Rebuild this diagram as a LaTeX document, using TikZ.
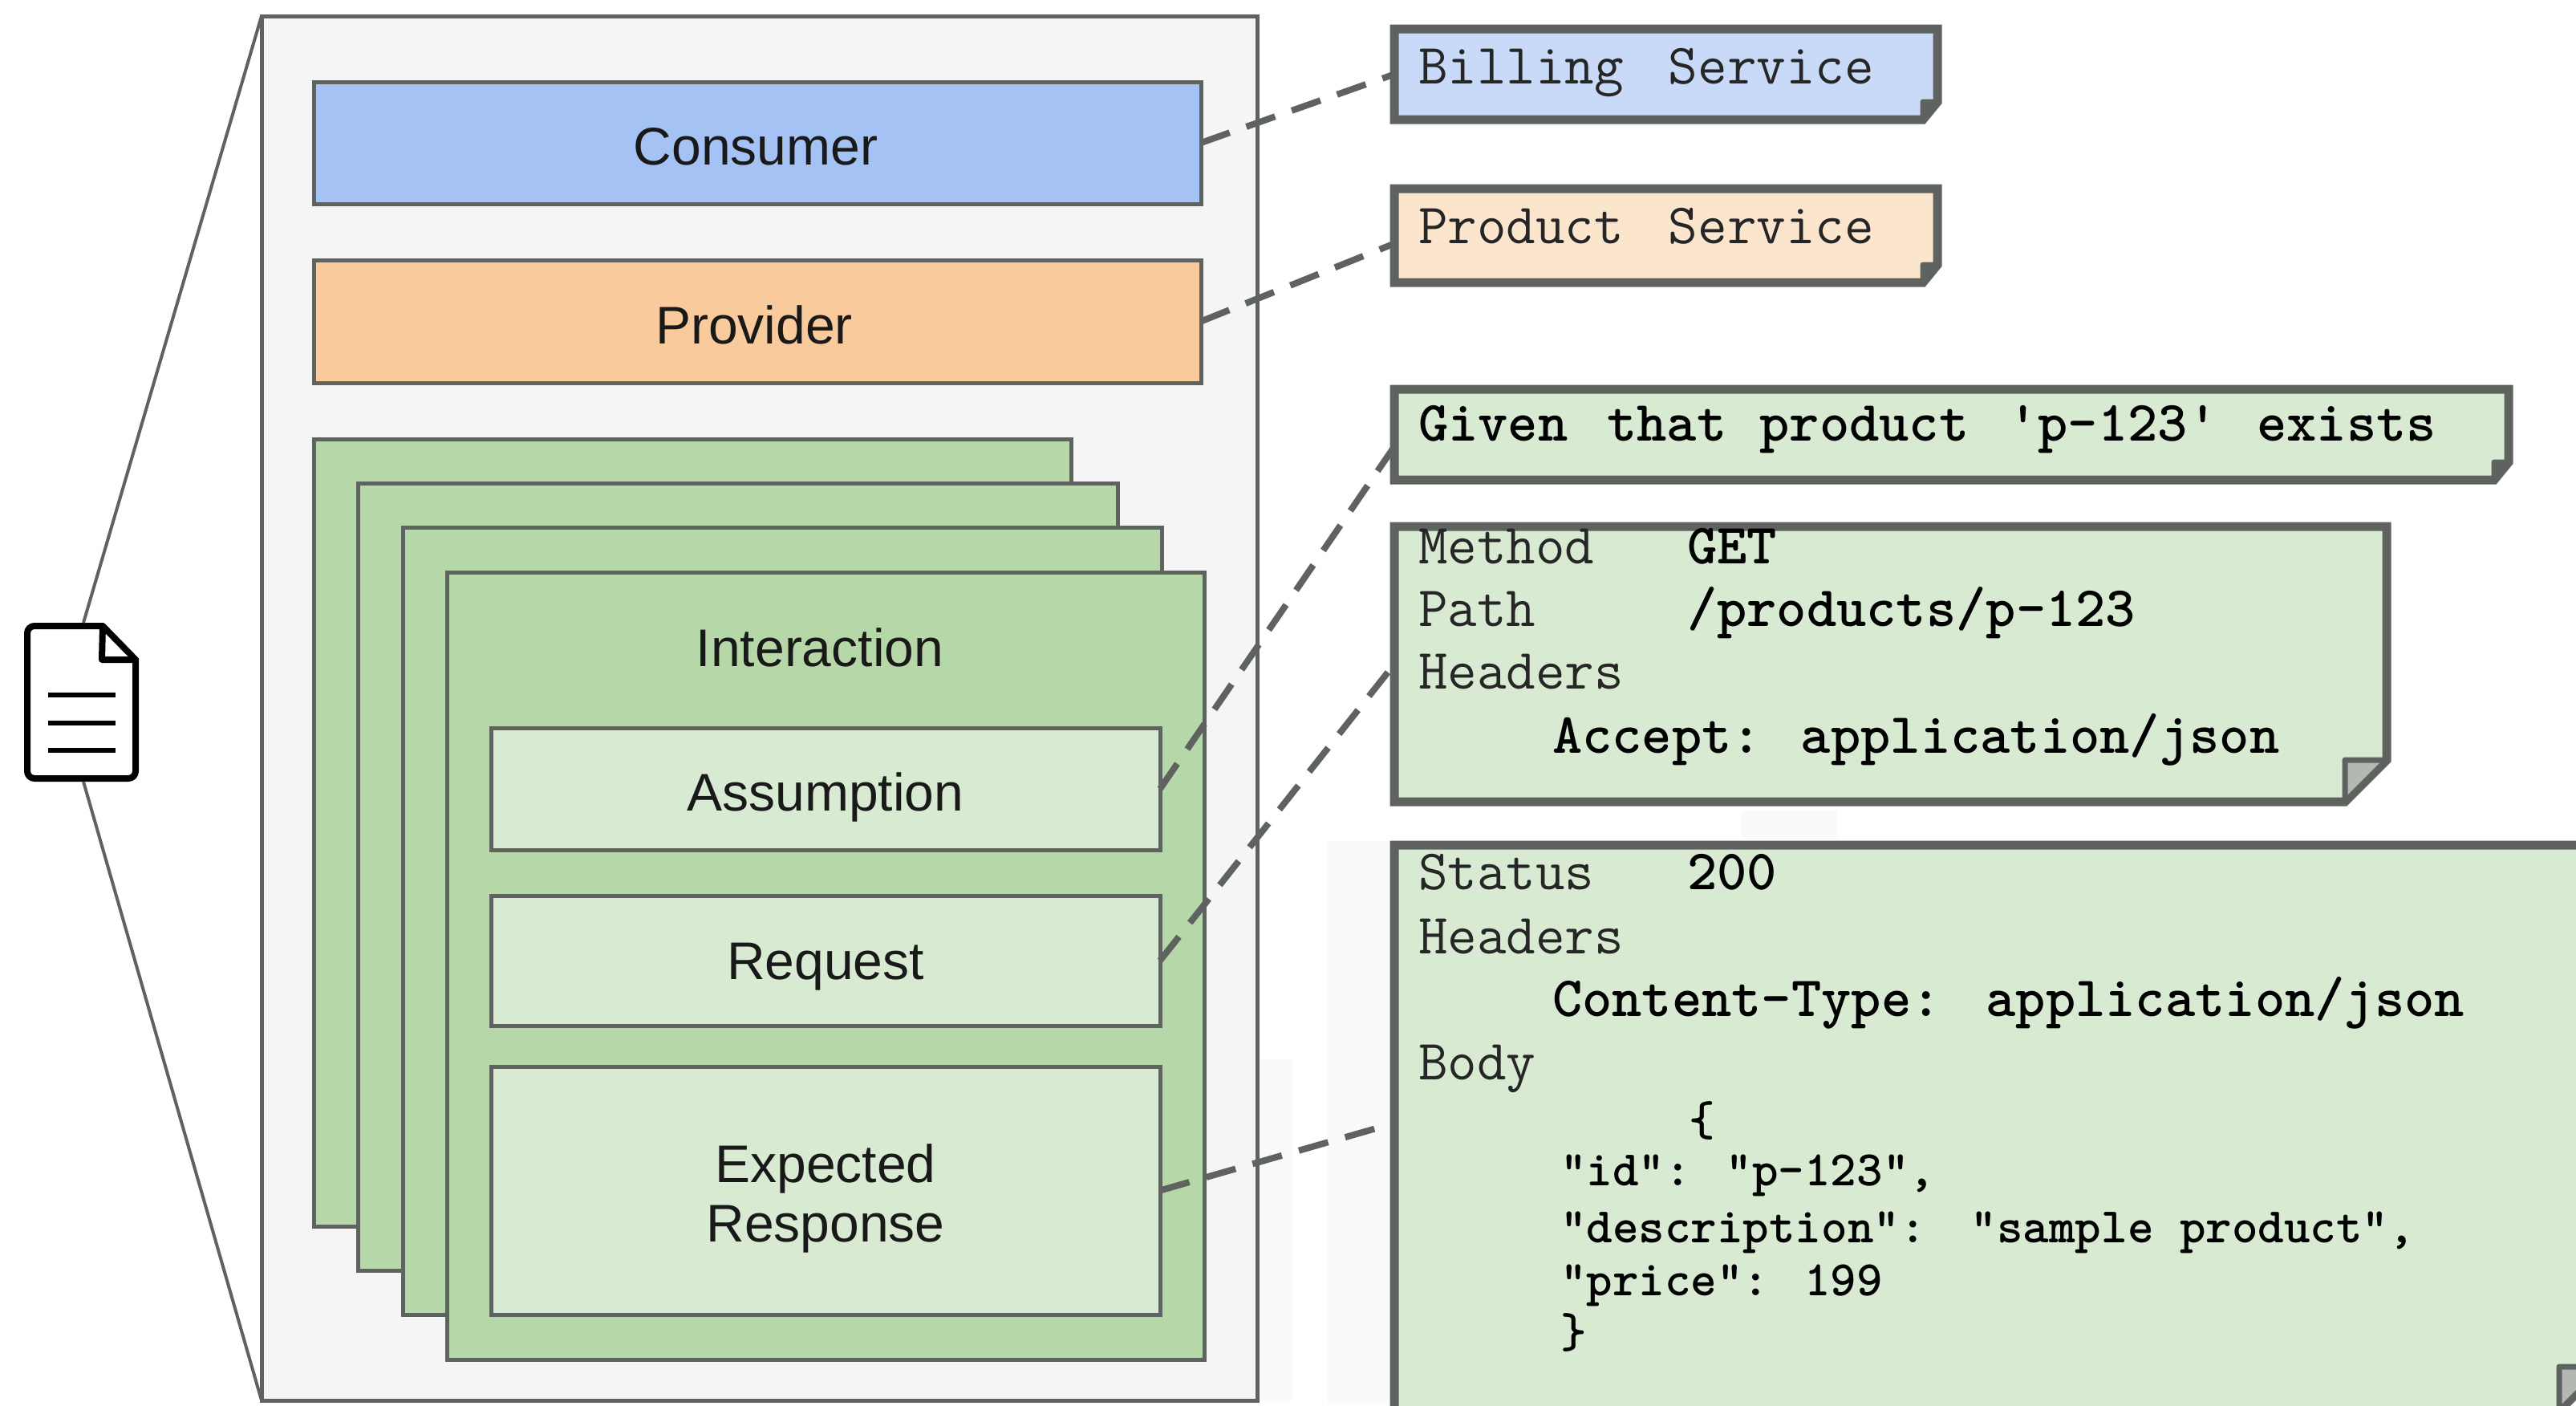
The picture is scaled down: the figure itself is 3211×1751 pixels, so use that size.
\documentclass[tikz,border=0pt]{standalone}
\usepackage{fontspec}
\setmainfont{Liberation Sans}
\usetikzlibrary{calc}
\definecolor{edgegray}{HTML}{5F6360}
\definecolor{framefill}{HTML}{F5F5F5}
\definecolor{consblue}{HTML}{A4C2F4}
\definecolor{provorange}{HTML}{F9CB9C}
\definecolor{stackgreen}{HTML}{B6D7A8}
\definecolor{palegreen}{HTML}{D9EAD3}
\definecolor{paleblue}{HTML}{C9DAF8}
\definecolor{paleorange}{HTML}{FCE5CD}
\definecolor{foldgray}{HTML}{B4B8B2}
\definecolor{ghost}{HTML}{FAFAFB}
\newcommand{\boxat}[7]{%
  \pgfmathsetmacro{\bw}{#5-#3}\pgfmathsetmacro{\bh}{#6-#4}%
  \pgfmathsetmacro{\bx}{(#3+#5)/2}\pgfmathsetmacro{\by}{(#4+#6)/2}%
  \node[#2,minimum width=\bw pt,minimum height=\bh pt] (#1) at (\bx,\by) {#7};}
% note outline with a folded lower right corner
\newcommand{\notepoly}[5]{%
  \draw[noteedge,fill=#2] (#1.north west) -- (#1.north east) -- ($(#1.south east)+(0,-#4)$) -- ($(#1.south east)+(-#3,0)$) -- (#1.south west) -- cycle;
  \fill[#5,draw=edgegray,line width=7pt,line join=round] ($(#1.south east)+(0,-#4)$) -- ($(#1.south east)+(-#3,-#4)$) -- ($(#1.south east)+(-#3,0)$) -- cycle;}
\newcommand{\gapa}{\hspace{56pt}}
\newcommand{\gapb}{\hspace{44pt}}
\newcommand{\gapc}{\hspace{49pt}}
\newcommand{\gapd}{\hspace{41pt}}
\tikzset{
  shell/.style={rectangle,inner sep=0pt,outer sep=0pt,draw=edgegray,line width=5pt},
  solidbox/.style={shell,fill=white},
  boxlabel/.style={inner sep=0pt,outer sep=0pt,font=\fontsize{66}{74}\selectfont,align=center,text=black!90},
  stackbox/.style={shell,fill=stackgreen},
  innerbox/.style={solidbox,fill=palegreen},
  noteanchor/.style={rectangle,inner sep=0pt,outer sep=0pt},
  noteedge/.style={draw=edgegray,line width=11pt,line join=miter},
  link/.style={draw=edgegray,line width=8pt,dash pattern=on 38pt off 22pt},
  zoomline/.style={draw=edgegray,line width=4pt},
  mono/.style={inner sep=0pt,outer sep=0pt,anchor=base west,font=\fontsize{71}{75}\selectfont\ttfamily,text=black!85},
  monob/.style={mono,font=\fontsize{71}{75}\selectfont\ttfamily\bfseries,text=black},
  json/.style={mono,font=\fontsize{62}{66}\selectfont\ttfamily\bfseries,text=black},
  ghostbox/.style={fill=ghost,draw=none},
  iconedge/.style={draw=black,line width=8pt,line join=round},
  iconline/.style={draw=black,line width=6pt},
}
\begin{document}
\begin{tikzpicture}[x=1pt,y=-1pt]
\useasboundingbox (0,0) rectangle (3211,1751);
\begin{scope}
\clip (0,0) rectangle (3211,1751);
% faint artefacts of the source picture
\fill[ghostbox] (2171,1010) rectangle (2290,1045);
\fill[ghostbox] (1655,1048) rectangle (1732,1751);
\fill[ghostbox] (1567,1320) rectangle (1612,1745);
% document icon
\node[noteanchor,minimum width=135pt,minimum height=190pt] (doc) at (101.5,875) {};
\draw[iconedge,rounded corners=9pt] (128,780) -- (doc.north west) -- (doc.south west) -- (doc.south east) -- (169,820);
\draw[iconedge] (128,780) -- (169,822) -- (127,822) -- cycle;
\draw[iconline] (60,866) -- (144,866) (60,901) -- (144,901) (60,935) -- (144,935);
% frame
\boxat{frame}{shell,fill=framefill}{326}{20}{1567}{1745}{}
\draw[zoomline] (104,776) -- (frame.north west);
\draw[zoomline] (104,974) -- (frame.south west);
\boxat{consumer}{solidbox,fill=consblue}{391}{102}{1497}{254}{}
\boxat{provider}{solidbox,fill=provorange}{391}{324}{1497}{477}{}
\boxat{stacka}{stackbox}{391}{547}{1335}{1528}{}
\boxat{stackb}{stackbox}{446}{602}{1393}{1583}{}
\boxat{stackc}{stackbox}{502}{657}{1448}{1638}{}
\boxat{stackd}{stackbox}{557}{713}{1501}{1694}{}
\node[boxlabel] (interaction) at (1022,807) {Interaction};
\boxat{assumption}{innerbox}{612}{907}{1446}{1059}{}
\boxat{request}{innerbox}{612}{1116}{1446}{1278}{}
\boxat{expected}{innerbox}{612}{1329}{1446}{1638}{}
\node[boxlabel] (lconsumer) at ($(consumer)+(-2,5)$) {Consumer};
\node[boxlabel] (lprovider) at ($(provider)+(-4,4)$) {Provider};
\node[boxlabel] (lassumption) at ($(assumption)+(0,10)$) {Assumption};
\node[boxlabel] (lrequest) at ($(request)+(0,8)$) {Request};
\node[boxlabel] (lexpected) at ($(expected)+(0,10)$) {Expected\\Response};
% notes
\boxat{billing}{noteanchor}{1738}{36}{2415}{149}{}
\boxat{product}{noteanchor}{1738}{235}{2415}{352}{}
\boxat{given}{noteanchor}{1738}{485}{3127}{598}{}
\boxat{method}{noteanchor}{1738}{656}{2975}{999}{}
\boxat{status}{noteanchor}{1738}{1053}{3245}{1758}{}
\notepoly{billing}{paleblue}{18}{22}{edgegray}
\notepoly{product}{paleorange}{18}{22}{edgegray}
\notepoly{given}{palegreen}{18}{22}{edgegray}
\notepoly{method}{palegreen}{52}{52}{foldgray}
\notepoly{status}{palegreen}{55}{55}{foldgray}
% note texts
\node[mono] (tbilling) at (1768,104) {Billing\gapa Service};
\node[mono] (tproduct) at (1768,303) {Product\gapa Service};
\node[monob] (tgiven) at (1768,549) {Given\gapc that\gapd product\gapc 'p-123'\gapc exists};
\node[mono] (tmethod) at (1768,702) {Method};
\node[monob] (tget) at (2103,702) {GET};
\node[mono] (tpath) at (1768,780) {Path};
\node[monob] (tproducts) at (2103,780) {/products/p-123};
\node[mono] (theaders) at (1768,858) {Headers};
\node[monob] (taccept) at (1935,938) {Accept:\gapc application/json};
\node[mono] (tstatus) at (1768,1108) {Status};
\node[monob] (tcode) at (2103,1108) {200};
\node[mono] (theadersb) at (1768,1188) {Headers};
\node[monob] (tctype) at (1935,1266) {Content-Type:\gapa application/json};
\node[mono] (tbody) at (1768,1345) {Body};
\node[json] (topen) at (2105,1415) {\{};
\node[json] (tid) at (1945,1477) {"id":\gapb "p-123",};
\node[json] (tdesc) at (1945,1548) {"description":\gapa "sample product",};
\node[json] (tprice) at (1945,1614) {"price":\gapb 199};
\node[json] (tclose) at (1945,1679) {\}};
% connectors
\draw[link] (consumer.east) -- (billing.west);
\draw[link] (provider.east) -- ($(product.west)+(0,10)$);
\draw[link] (assumption.east) -- ($(given.west)+(0,15)$);
\draw[link] (request.east) -- (method.west);
\draw[link] (expected.east) -- ($(status.west)+(0,-6)$);
\end{scope}
\end{tikzpicture}
\end{document}
